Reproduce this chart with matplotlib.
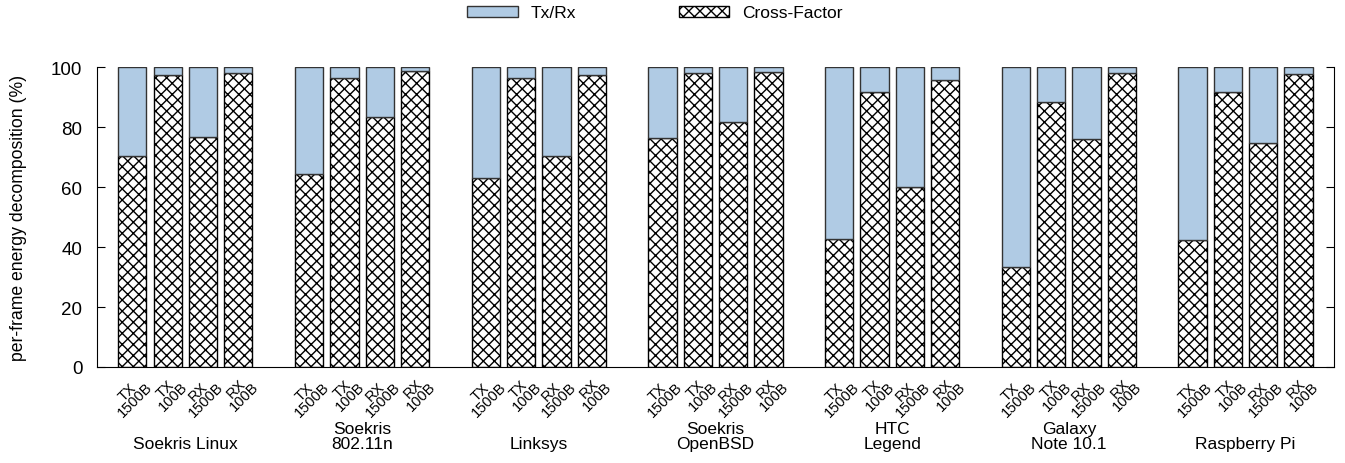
import matplotlib
matplotlib.use('Agg')
import matplotlib.pyplot as plt
import matplotlib.patches as mpatches
from matplotlib.transforms import ScaledTranslation
import numpy as np

plt.rcParams['font.family'] = ['Liberation Sans', 'DejaVu Sans']
plt.rcParams['hatch.linewidth'] = 1.0

# devices (groups) and the four frame types per device
devices = ["Soekris Linux", "Soekris\n802.11n", "Linksys", "Soekris\nOpenBSD",
           "HTC\nLegend", "Galaxy\nNote 10.1", "Raspberry Pi"]
frame_labels = ["TX\n1500B", "TX\n100B", "RX\n1500B", "RX\n100B"]

# cross-factor share (%) per device, order: TX1500, TX100, RX1500, RX100
cross_factor = [
    [70.2, 97.3, 76.6, 98.1],
    [64.2, 96.3, 83.2, 98.7],
    [63.0, 96.3, 70.2, 97.3],
    [76.2, 97.9, 81.6, 98.4],
    [42.7, 91.8, 59.9, 95.7],
    [33.2, 88.2, 76.0, 97.9],
    [42.4, 91.6, 74.7, 97.7],
]
# tx/rx share fills the rest up to 100 %
TOTAL = 100.0

BLUE = "#b0cbe4"

fig = plt.figure(figsize=(13.45, 4.64), dpi=100)
ax = fig.add_axes([0.0721, 0.2069, 0.9197, 0.6465])

n_frames = len(frame_labels)
stride = n_frames + 1
xs, cf, tr, xlabels = [], [], [], []
for g, vals in enumerate(cross_factor):
    for i, v in enumerate(vals):
        xs.append(g * stride + i)
        cf.append(v)
        tr.append(TOTAL - v)
        xlabels.append(frame_labels[i])
xs = np.array(xs)

ax.bar(xs, cf, width=0.8, color="white", edgecolor="black", linewidth=1.0,
       hatch="xxx")
ax.bar(xs, tr, width=0.8, bottom=cf, color=BLUE, edgecolor="#333333",
       linewidth=1.0)

ax.set_xlim(-1, xs[-1] + 1)
ax.set_ylim(0, 100)
ax.set_yticks([0, 20, 40, 60, 80, 100])
ax.tick_params(axis="y", direction="in", length=6, labelsize=13.5,
               right=True, pad=10.5)
ax.set_xticks(xs)
ax.set_xticklabels(xlabels, rotation=45, ha="right", va="top",
                   rotation_mode="anchor", fontsize=10.5, linespacing=0.75,
                   multialignment="center")
ax.tick_params(axis="x", length=0, pad=3)
shift = ScaledTranslation(5 / 100, 0, fig.dpi_scale_trans)
for lbl in ax.get_xticklabels():
    lbl.set_transform(lbl.get_transform() + shift)
ax.spines["top"].set_visible(False)
ax.set_ylabel("per-frame energy decomposition (%)", fontsize=12.7, labelpad=17)

trans = ax.get_xaxis_transform()
for g, name in enumerate(devices):
    ax.text(g * stride + (n_frames - 1) / 2, -0.28, name, transform=trans,
            ha="center", va="bottom", fontsize=12.5, linespacing=1.0)

handles = [mpatches.Patch(facecolor=BLUE, edgecolor="#333333", label="Tx/Rx"),
           mpatches.Patch(facecolor="white", edgecolor="black", hatch="xxx",
                          label="Cross-Factor")]
fig.legend(handles=handles, loc="center", bbox_to_anchor=(0.487, 0.97),
           ncol=2, frameon=False, fontsize=12.5, handlelength=2.9,
           handleheight=0.6, handletextpad=0.75, columnspacing=5.9)

plt.savefig("out.png", dpi=100)
